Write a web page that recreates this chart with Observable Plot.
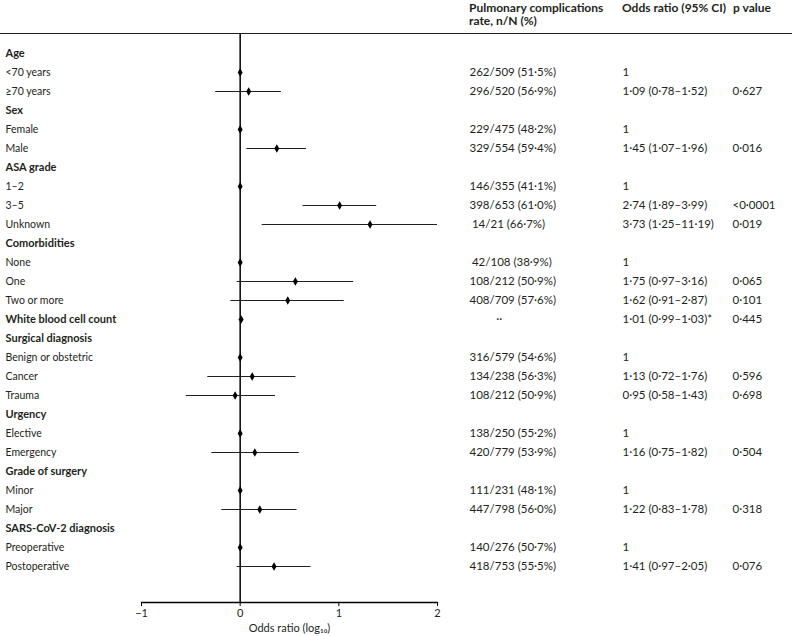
<!DOCTYPE html>
<html>
<head>
<meta charset="utf-8">
<script src="https://cdn.jsdelivr.net/npm/d3@7"></script>
<script src="https://cdn.jsdelivr.net/npm/@observablehq/plot@0.6"></script>
<style>
  html, body { margin: 0; padding: 0; background: #fff; }
  #wrap { width: 792px; font-family: Lato, "Open Sans", sans-serif; color: #231f20; }
  #head { position: relative; width: 792px; height: 32.5px; border-bottom: 1.5px solid #231f20; }
  #head span { position: absolute; top: 2px; font-weight: bold; font-size: 12px; line-height: 12.5px; white-space: pre; }
  #chart svg { display: block; }
</style>
</head>
<body>
<div id="wrap">
  <div id="head"></div>
  <div id="chart"></div>
</div>
<script>
// ---- Data ----
const columnHeaders = ["Pulmonary complications\nrate, n/N (%)", "Odds ratio (95% CI)", "p value"];

const rowLabels = [
  "Age", "<70 years", "≥70 years",
  "Sex", "Female", "Male",
  "ASA grade", "1–2", "3–5", "Unknown",
  "Comorbidities", "None", "One", "Two or more",
  "White blood cell count",
  "Surgical diagnosis", "Benign or obstetric", "Cancer", "Trauma",
  "Urgency", "Elective", "Emergency",
  "Grade of surgery", "Minor", "Major",
  "SARS-CoV-2 diagnosis", "Preoperative", "Postoperative"
];

const headingRows = ["Age", "Sex", "ASA grade", "Comorbidities", "White blood cell count",
  "Surgical diagnosis", "Urgency", "Grade of surgery", "SARS-CoV-2 diagnosis"];

const rateText = [
  "", "262/509 (51·5%)", "296/520 (56·9%)",
  "", "229/475 (48·2%)", "329/554 (59·4%)",
  "", "146/355 (41·1%)", "398/653 (61·0%)", "\u200814/21 (66·7%)",
  "", "\u200842/108 (38·9%)", "108/212 (50·9%)", "408/709 (57·6%)",
  "\u2007\u2007\u2007\u2007··",
  "", "316/579 (54·6%)", "134/238 (56·3%)", "108/212 (50·9%)",
  "", "138/250 (55·2%)", "420/779 (53·9%)",
  "", "111/231 (48·1%)", "447/798 (56·0%)",
  "", "140/276 (50·7%)", "418/753 (55·5%)"
];

const orText = [
  "", "1", "1·09 (0·78–1·52)",
  "", "1", "1·45 (1·07–1·96)",
  "", "1", "2·74 (1·89–3·99)", "3·73 (1·25–11·19)",
  "", "1", "1·75 (0·97–3·16)", "1·62 (0·91–2·87)",
  "1·01 (0·99–1·03)*",
  "", "1", "1·13 (0·72–1·76)", "0·95 (0·58–1·43)",
  "", "1", "1·16 (0·75–1·82)",
  "", "1", "1·22 (0·83–1·78)",
  "", "1", "1·41 (0·97–2·05)"
];

const pText = [
  "", "", "0·627",
  "", "", "0·016",
  "", "", "<0·0001", "0·019",
  "", "", "0·065", "0·101",
  "0·445",
  "", "", "0·596", "0·698",
  "", "", "0·504",
  "", "", "0·318",
  "", "", "0·076"
];

const orValue = [
  null, 1, 1.09,
  null, 1, 1.45,
  null, 1, 2.74, 3.73,
  null, 1, 1.75, 1.62,
  1.01,
  null, 1, 1.13, 0.95,
  null, 1, 1.16,
  null, 1, 1.22,
  null, 1, 1.41
];
const ciLow = [
  null, null, 0.78,
  null, null, 1.07,
  null, null, 1.89, 1.25,
  null, null, 0.97, 0.91,
  0.99,
  null, null, 0.72, 0.58,
  null, null, 0.75,
  null, null, 0.83,
  null, null, 0.97
];
const ciHigh = [
  null, null, 1.52,
  null, null, 1.96,
  null, null, 3.99, 11.19,
  null, null, 3.16, 2.87,
  1.03,
  null, null, 1.76, 1.43,
  null, null, 1.82,
  null, null, 1.78,
  null, null, 2.05
];

const axisTicks = [-1, 0, 1, 2]; // log-odds tick labels
const axisLabel = "Odds ratio (log₁₀)";

// ---- Build ----
const rows = rowLabels.map((label, i) => ({
  i, label,
  heading: headingRows.includes(label),
  rate: rateText[i], orTxt: orText[i], p: pText[i],
  or: orValue[i], lo: ciLow[i], hi: ciHigh[i]
}));

const head = document.getElementById("head");
const headerX = [469, 622, 733];
columnHeaders.forEach((t, k) => {
  const s = document.createElement("span");
  s.textContent = t;
  s.style.left = headerX[k] + "px";
  head.appendChild(s);
});

const ink = "#231f20";
const fs = 10.5;   // label text
const fsNum = 11.5; // numeric columns
const ML = 141;

const chart = Plot.plot({
  width: 792,
  height: 602,
  marginTop: 0,
  marginBottom: 34,
  marginLeft: ML,
  marginRight: 355,
  style: { fontFamily: "Lato, 'Open Sans', sans-serif", fontSize: fs + "px", color: ink, background: "#fff", overflow: "visible" },
  x: {
    type: "log",
    domain: [Math.exp(-1), Math.exp(2)],
    clamp: true
  },
  y: { type: "point", domain: d3.range(rowLabels.length), padding: 0, insetTop: 17, insetBottom: 35, axis: null },
  marks: [
    Plot.ruleX([1], { stroke: "#000", strokeWidth: 1.5 }),
    Plot.frame({ anchor: "bottom", stroke: "#000", strokeWidth: 1.3 }),
    Plot.axisX({
      ticks: axisTicks.map(Math.exp),
      tickFormat: d => { const v = Math.round(Math.log(d)); return (v < 0 ? "−" : "") + Math.abs(v); },
      tickSize: 4,
      tickPadding: 3,
      stroke: "#000",
      label: axisLabel,
      labelAnchor: "center",
      labelArrow: "none",
      labelOffset: 29,
      fontSize: 11
    }),
    Plot.ruleY(rows.filter(d => d.lo != null), { y: "i", x1: "lo", x2: "hi", stroke: ink, strokeWidth: 1.2 }),
    Plot.dot(rows.filter(d => d.or != null), { x: "or", y: "i", symbol: "diamond", r: 2.6, fill: "#000", stroke: "none" }),
    // Left labels
    Plot.text(rows.filter(d => d.heading), { y: "i", text: "label", frameAnchor: "left", dx: 5 - ML, textAnchor: "start", fontWeight: "bold", fontSize: fs + 0.5, fill: ink }),
    Plot.text(rows.filter(d => !d.heading), { y: "i", text: "label", frameAnchor: "left", dx: 5 - ML, textAnchor: "start", fontSize: fs, fill: ink }),
    // Table columns
    Plot.text(rows.filter(d => d.rate), { y: "i", text: "rate", frameAnchor: "left", dx: 469 - ML, textAnchor: "start", fontSize: fsNum, fill: ink }),
    Plot.text(rows.filter(d => d.orTxt), { y: "i", text: "orTxt", frameAnchor: "left", dx: 622 - ML, textAnchor: "start", fontSize: fsNum, fill: ink }),
    Plot.text(rows.filter(d => d.p), { y: "i", text: "p", frameAnchor: "left", dx: 732 - ML, textAnchor: "start", fontSize: fsNum, fill: ink })
  ]
});
document.getElementById("chart").appendChild(chart);
</script>
</body>
</html>
